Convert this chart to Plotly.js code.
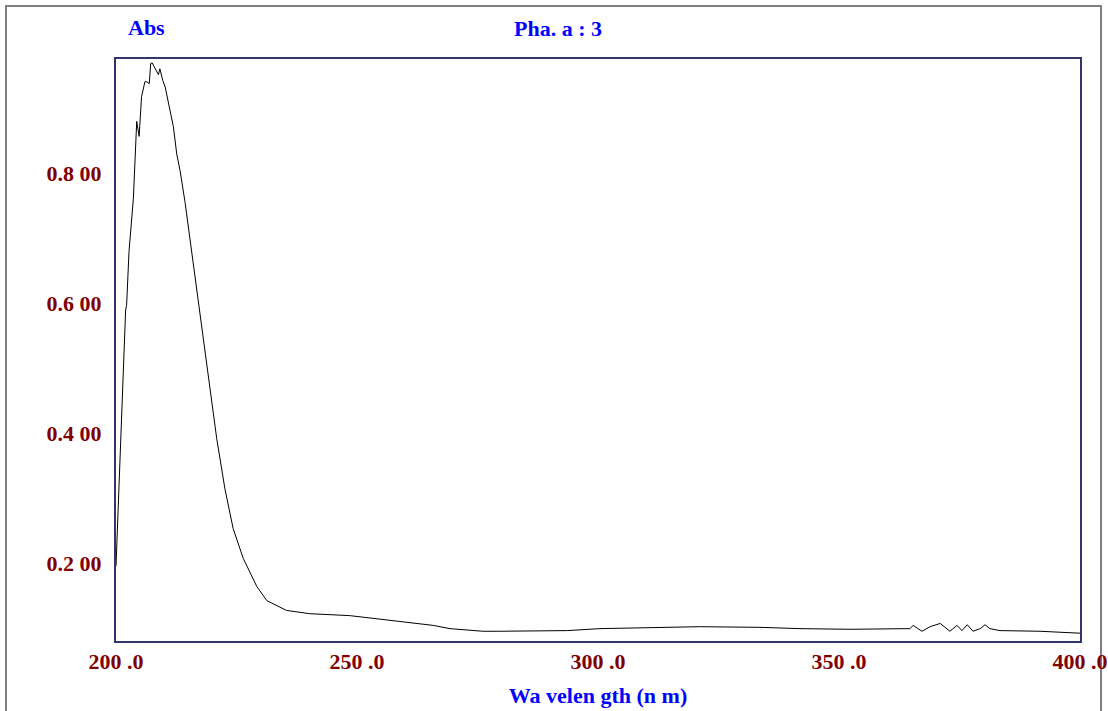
<!DOCTYPE html>
<html>
<head>
<meta charset="utf-8">
<script src="https://cdn.plot.ly/plotly-3.0.1.min.js"></script>
<style>html,body{margin:0;padding:0;background:#fff;}#chart{width:1108px;height:711px;}</style>
</head>
<body>
<div id="chart"></div>
<script>
// Wavelength (nm)
const wavelength = [200.0,201.4,202.0,202.2,202.7,203.6,204.3,204.8,205.3,206.0,206.4,206.9,207.2,207.5,208.1,208.4,208.8,209.1,209.7,210.2,210.9,211.9,212.6,213.3,214.3,215.4,216.7,218.1,219.7,220.9,222.6,224.3,226.4,229.2,231.3,235.4,240.2,248.5,258.9,265.8,269.3,276.1,279.7,286.5,293.6,300.4,310.0,321.2,333.6,341.9,352.3,362.7,364.7,365.4,367.2,368.9,371.0,373.0,374.5,375.5,376.6,377.8,379.3,380.3,381.3,383.4,391.7,400.0];
// Absorbance
const absorbance = [0.196,0.469,0.590,0.597,0.680,0.761,0.880,0.857,0.918,0.941,0.941,0.938,0.969,0.970,0.961,0.958,0.952,0.961,0.943,0.933,0.907,0.872,0.830,0.804,0.757,0.697,0.621,0.545,0.454,0.392,0.315,0.254,0.208,0.165,0.143,0.128,0.123,0.120,0.111,0.105,0.100,0.096,0.096,0.096,0.097,0.100,0.101,0.103,0.102,0.100,0.099,0.099,0.100,0.105,0.096,0.103,0.108,0.096,0.105,0.097,0.106,0.096,0.100,0.106,0.100,0.097,0.096,0.093];
const xTickVals = [200, 250, 300, 350, 400];
const xTickText = ["200 .0", "250 .0", "300 .0", "350 .0", "400 .0"];
const yTickVals = [0.2, 0.4, 0.6, 0.8];
const yTickText = ["0.2 00", "0.4 00", "0.6 00", "0.8 00"];

const fontFam = "Liberation Serif, Times New Roman, serif";
const tickFont = {family: fontFam, size: 22, color: "#800000", weight: "bold"};
const blueFont = {family: fontFam, size: 22, color: "#0000ff", weight: "bold"};

const trace = {
  x: wavelength, y: absorbance, type: "scatter", mode: "lines",
  line: {color: "#000000", width: 1}, hoverinfo: "skip"
};

const layout = {
  width: 1108, height: 711,
  margin: {l: 116, r: 28, t: 59, b: 70, pad: 0},
  paper_bgcolor: "#ffffff", plot_bgcolor: "#ffffff",
  showlegend: false,
  title: {text: "Pha. a : 3", font: blueFont, x: 558/1108, xanchor: "center", y: 1 - 28/711, yanchor: "middle"},
  xaxis: {
    range: [200, 400], tickvals: xTickVals, ticktext: xTickText, tickfont: tickFont,
    showgrid: false, zeroline: false, showline: true, mirror: true, linecolor: "#33336e", linewidth: 2,
    ticks: "", ticklabelstandoff: 0, automargin: false,
    title: {text: "Wa velen gth (n m)", font: blueFont, standoff: 14}
  },
  yaxis: {
    range: [0.081, 0.976], tickvals: yTickVals, ticktext: yTickText, tickfont: tickFont,
    showgrid: false, zeroline: false, showline: true, mirror: true, linecolor: "#33336e", linewidth: 2,
    ticks: "", ticklabelstandoff: 8, automargin: false
  },
  annotations: [
    {text: "Abs", xref: "paper", yref: "paper", x: (146-116)/964, y: (641-28)/582,
     xanchor: "center", yanchor: "middle", showarrow: false, font: blueFont}
  ],
  shapes: [
    {type: "rect", xref: "paper", yref: "paper",
     x0: (6-116)/964, x1: (1101-116)/964, y0: (641-730)/582, y1: (641-6)/582,
     line: {color: "#808080", width: 2}, fillcolor: "rgba(0,0,0,0)", layer: "below"}
  ]
};

Plotly.newPlot("chart", [trace], layout, {staticPlot: true, displayModeBar: false});
</script>
</body>
</html>
